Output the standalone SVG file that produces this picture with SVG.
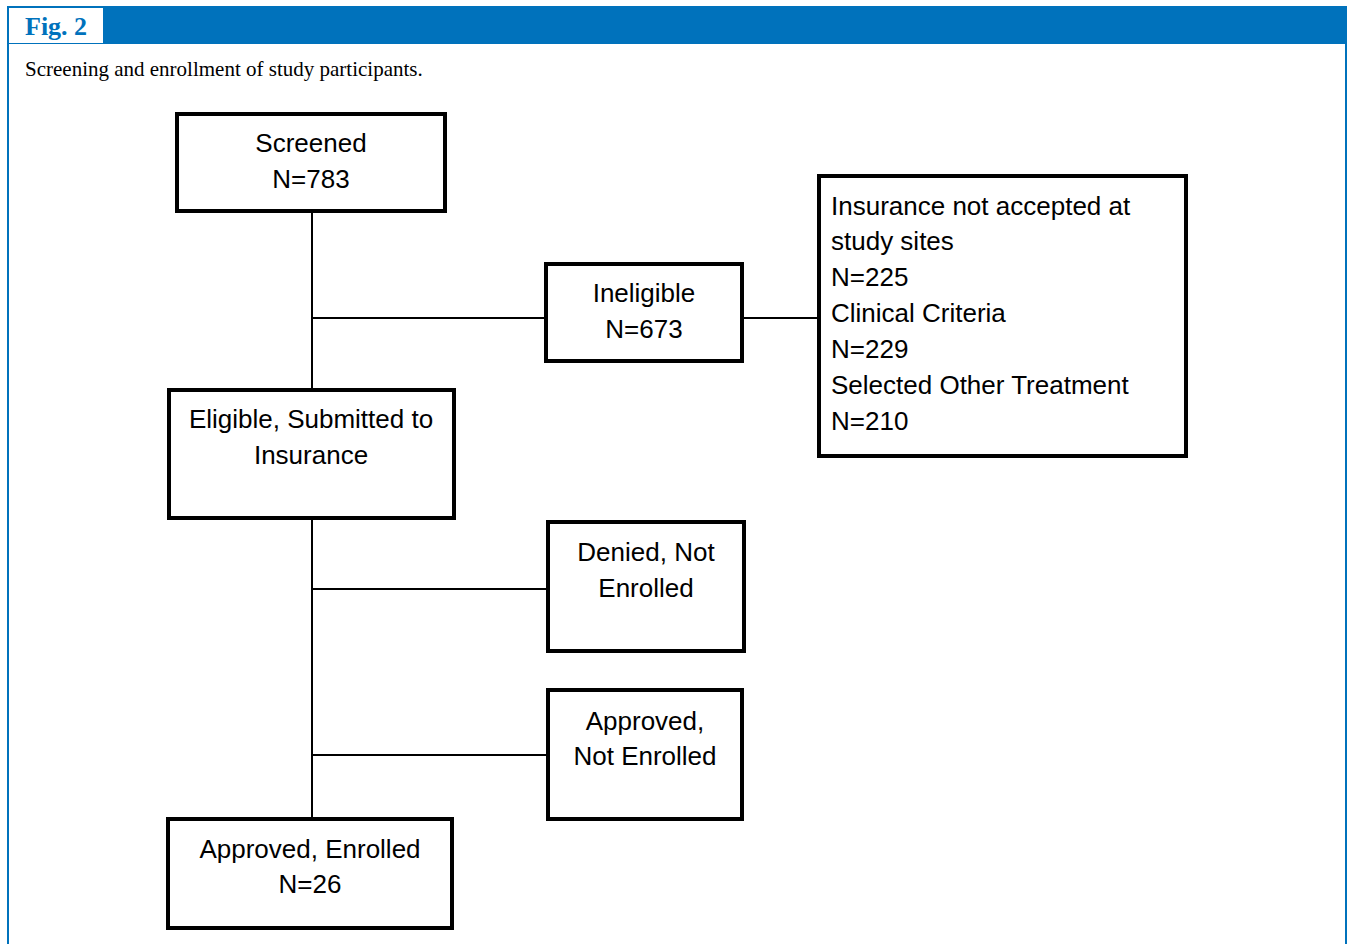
<svg xmlns="http://www.w3.org/2000/svg" width="1352" height="944" viewBox="0 0 1352 944">
<style>
.box{fill:#fff;stroke:#000;stroke-width:4}
.t{font-family:"Liberation Sans",Arial,sans-serif;font-size:26px;fill:#000}
.c{text-anchor:middle}
.conn line{stroke:#000;stroke-width:2}
</style>
<rect x="0" y="0" width="1352" height="944" fill="#fff"/>
<g id="frame">
<rect x="7" y="6" width="1340" height="38" fill="#0072BC"/>
<rect x="7" y="6" width="2" height="938" fill="#0072BC"/>
<rect x="1345" y="6" width="2" height="938" fill="#0072BC"/>
<rect x="9" y="8" width="94" height="35" fill="#fff"/>
<text x="25" y="35" font-family="Liberation Serif,'Times New Roman',serif" font-weight="bold" font-size="26" fill="#0072BC">Fig. 2</text>
<text x="25" y="76" font-family="Liberation Serif,'Times New Roman',serif" font-size="21" fill="#000">Screening and enrollment of study participants.</text>
</g>
<g id="connectors" class="conn">
<line x1="312" y1="212" x2="312" y2="389"/>
<line x1="312" y1="519" x2="312" y2="818"/>
<line x1="312" y1="318" x2="545" y2="318"/>
<line x1="743" y1="318" x2="818" y2="318"/>
<line x1="312" y1="589" x2="547" y2="589"/>
<line x1="312" y1="755" x2="547" y2="755"/>
</g>
<g id="screened">
<rect class="box" x="177" y="114" width="268" height="97"/>
<text class="t c" x="311" y="152">Screened</text>
<text class="t c" x="311" y="188">N=783</text>
</g>
<g id="ineligible">
<rect class="box" x="546" y="264" width="196" height="97"/>
<text class="t c" x="644" y="302">Ineligible</text>
<text class="t c" x="644" y="338">N=673</text>
</g>
<g id="reasons">
<rect class="box" x="819" y="176" width="367" height="280"/>
<text class="t" x="831" y="215">Insurance not accepted at</text>
<text class="t" x="831" y="250">study sites</text>
<text class="t" x="831" y="286">N=225</text>
<text class="t" x="831" y="322">Clinical Criteria</text>
<text class="t" x="831" y="358">N=229</text>
<text class="t" x="831" y="394">Selected Other Treatment</text>
<text class="t" x="831" y="430">N=210</text>
</g>
<g id="eligible">
<rect class="box" x="169" y="390" width="285" height="128"/>
<text class="t c" x="311" y="428">Eligible, Submitted to</text>
<text class="t c" x="311" y="464">Insurance</text>
</g>
<g id="denied">
<rect class="box" x="548" y="522" width="196" height="129"/>
<text class="t c" x="646" y="561">Denied, Not</text>
<text class="t c" x="646" y="597">Enrolled</text>
</g>
<g id="approved-not">
<rect class="box" x="548" y="690" width="194" height="129"/>
<text class="t c" x="645" y="730">Approved,</text>
<text class="t c" x="645" y="765">Not Enrolled</text>
</g>
<g id="approved-enrolled">
<rect class="box" x="168" y="819" width="284" height="109"/>
<text class="t c" x="310" y="858">Approved, Enrolled</text>
<text class="t c" x="310" y="893">N=26</text>
</g>
</svg>
